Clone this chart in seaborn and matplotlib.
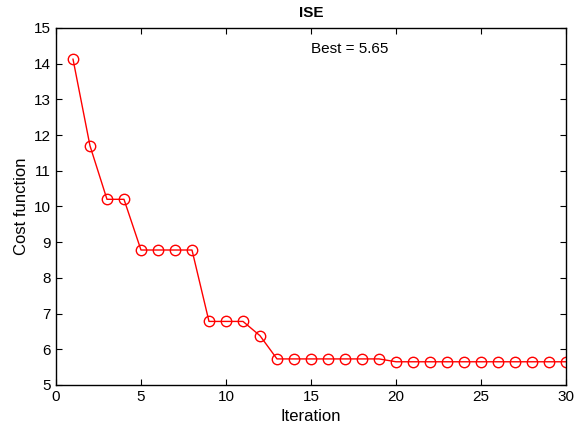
import matplotlib
matplotlib.use("Agg")
import matplotlib.pyplot as plt
import seaborn as sns
import pandas as pd

iterations = list(range(1, 31))
cost = [14.13, 11.70, 10.20, 10.20, 8.78, 8.78, 8.78, 8.78, 6.78, 6.78,
        6.78, 6.38, 5.73, 5.73, 5.73, 5.73, 5.73, 5.73, 5.73, 5.65,
        5.65, 5.65, 5.65, 5.65, 5.65, 5.65, 5.65, 5.65, 5.65, 5.65]
title = "ISE"
best_label = "Best = 5.65"

sns.set_style("ticks")
plt.rcParams['font.family'] = ['Liberation Sans', 'DejaVu Sans']
plt.rcParams['text.color'] = 'black'
plt.rcParams['axes.labelcolor'] = 'black'
plt.rcParams['xtick.color'] = 'black'
plt.rcParams['ytick.color'] = 'black'

df = pd.DataFrame({"Iteration": iterations, "Cost function": cost})

fig = plt.figure(figsize=(5.77, 4.36), dpi=100)
ax = fig.add_axes([0.097, 0.117, 0.884, 0.819])
sns.lineplot(data=df, x="Iteration", y="Cost function", color="red", lw=1,
             marker="o", markersize=7.5, markerfacecolor="none",
             markeredgecolor="red", markeredgewidth=1, ax=ax)
ax.set_xlim(0, 30)
ax.set_ylim(5, 15)
ax.set_xticks(range(0, 31, 5))
ax.set_yticks(range(5, 16))
ax.tick_params(direction="in", top=True, right=True, labelsize=11, length=4)
for s in ax.spines.values():
    s.set_visible(True)
    s.set_linewidth(1)
    s.set_color("black")
ax.set_title(title, fontweight="bold", fontsize=11, pad=8)
ax.set_xlabel("Iteration", fontsize=12)
ax.set_ylabel("Cost function", fontsize=12)
ax.text(15.0, 14.42, best_label, fontsize=11, ha="left", va="center")
fig.savefig("out.png", dpi=100)
